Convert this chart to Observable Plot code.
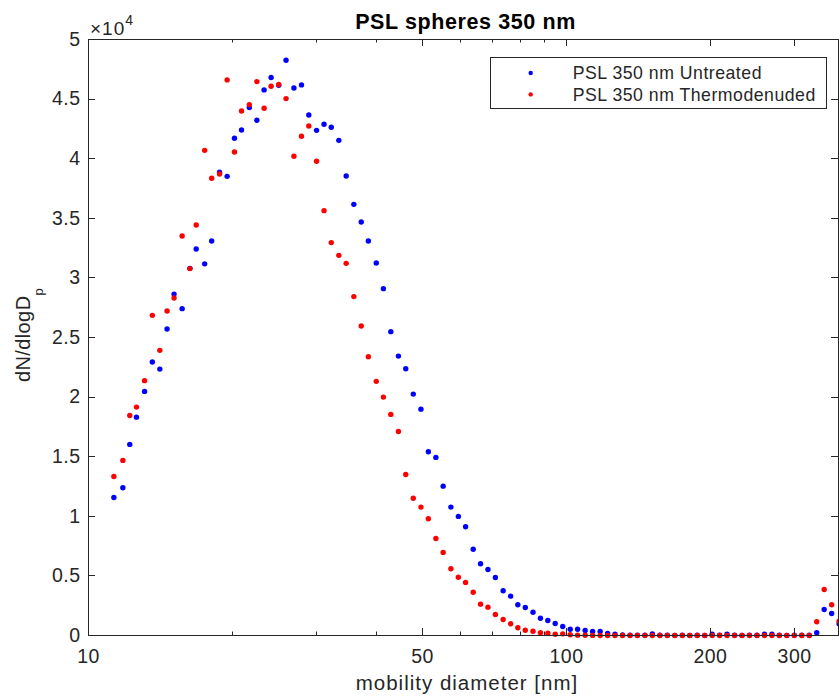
<!DOCTYPE html>
<html>
<head>
<meta charset="utf-8">
<script src="https://cdn.jsdelivr.net/npm/d3@7"></script>
<script src="https://cdn.jsdelivr.net/npm/@observablehq/plot@0.6"></script>
<style>
  html, body { margin: 0; padding: 0; background: #ffffff; }
  #chart { width: 839px; height: 696px; }
</style>
</head>
<body>
<div id="chart"></div>
<script>
// ---- data ----
const diameters = [11.3, 11.8, 12.2, 12.6, 13.1, 13.6, 14.1, 14.6, 15.1, 15.7,
  16.3, 16.8, 17.5, 18.1, 18.8, 19.5, 20.2, 20.9, 21.7, 22.5,
  23.3, 24.1, 25.0, 25.9, 26.9, 27.9, 28.9, 30.0, 31.1, 32.2,
  33.4, 34.6, 35.9, 37.2, 38.5, 40.0, 41.4, 42.9, 44.5, 46.1,
  47.8, 49.6, 51.4, 53.3, 55.2, 57.3, 59.4, 61.5, 63.8, 66.1,
  68.5, 71.0, 73.7, 76.4, 79.1, 82.0, 85.1, 88.2, 91.4, 94.7,
  98.2, 101.8, 105.5, 109.4, 113.4, 117.6, 121.9, 126.3, 131.0, 135.8,
  140.7, 145.9, 151.2, 156.8, 162.5, 168.5, 174.7, 181.1, 187.7, 194.6,
  201.7, 209.1, 216.7, 224.7, 232.9, 241.4, 250.3, 259.5, 269.0, 278.8,
  289.0, 299.6, 310.6, 322.0, 333.8, 346.0, 358.7, 371.8];

const untreated = [11580, 12400, 16030, 18320, 20480, 22940, 22350, 25710, 28640, 27420,
  30800, 32420, 31180, 33090, 38860, 38520, 41710, 42410, 44290, 43220,
  45770, 46810, 46160, 48260, 45930, 46190, 43670, 42380, 42890, 42640,
  41540, 38550, 36170, 34690, 33090, 31250, 29100, 25490, 23440, 22380,
  20250, 18990, 15420, 14940, 12530, 10770, 9990, 9120, 7240, 6020,
  5540, 4870, 3750, 3300, 2580, 2350, 1950, 1450, 1260, 1010,
  760, 530, 530, 420, 340, 340, 170, 100, 50, 30,
  20, 30, 120, 20, 20, 10, 20, 10, 20, 10,
  110, 20, 110, 20, 10, 20, 30, 110, 110, 20,
  10, 20, 30, 20, 230, 2180, 1850, 980];

const thermodenuded = [13340, 14690, 18460, 19160, 21380, 26860, 23920, 27220, 28310, 33510,
  30780, 34440, 40700, 38360, 38720, 46610, 40560, 44000, 44540, 46470,
  44230, 46080, 46220, 45040, 40200, 41880, 42740, 39780, 35640, 32960,
  31890, 31220, 28430, 25960, 23390, 21320, 20000, 18550, 17120, 13510,
  11520, 10770, 9790, 8140, 6970, 5600, 4890, 4450, 3630, 2630,
  2380, 1760, 1340, 980, 650, 440, 360, 230, 190, 110,
  140, 60, 30, 20, 10, 0, 0, 0, 0, 0,
  0, 0, 0, 0, 0, 0, 0, 0, 0, 0,
  0, 0, 0, 0, 0, 0, 0, 0, 0, 0,
  0, 0, 0, 0, 1150, 3860, 2580, 1200];

const seriesNames = ["PSL 350 nm Untreated", "PSL 350 nm Thermodenuded"];
const seriesColors = ["#0000ff", "#ff0000"];
const xTicks = [10, 50, 100, 200, 300];
const xMinorTicks = [20, 30, 40, 60, 70, 80, 90];
const yTicks = [0, 5000, 10000, 15000, 20000, 25000, 30000, 35000, 40000, 45000, 50000];
const titleText = "PSL spheres 350 nm";
const xLabelText = "mobility diameter [nm]";
const yLabelMain = "dN/dlogD";
const yLabelSub = "p";

(function () {
  // ---- build table ----
  const rows = [];
  [untreated, thermodenuded].forEach((vals, k) => {
    diameters.forEach((d, i) => rows.push({series: seriesNames[k], d, v: vals[i]}));
  });

  const ink = "#262626";
  const font = "'Liberation Sans', Arial, Helvetica, sans-serif";
  const xMax = 370.7;

  const chart = Plot.plot({
    width: 839,
    height: 696,
    marginLeft: 88,
    marginRight: 1,
    marginTop: 39,
    marginBottom: 61,
    style: {fontFamily: font, fontSize: "19.5px", color: ink, background: "#ffffff", letterSpacing: "0.5px", overflow: "visible"},
    x: {type: "log", domain: [10, xMax], ticks: xTicks, tickSize: 0, tickPadding: 14, tickFormat: d => String(d), label: null},
    y: {domain: [0, 50000], ticks: yTicks, tickSize: 0, tickPadding: 8, tickFormat: d => (d === 0 ? "0" : String(d / 1e4)), label: null},
    color: {domain: seriesNames, range: seriesColors},
    marks: [
      Plot.dot(rows, {x: "d", y: "v", fill: "series", r: 2.7}),
      Plot.frame({stroke: ink, strokeWidth: 1})
    ]
  });

  document.getElementById("chart").appendChild(chart);

  // ---- inward tick marks, positioned through the plot's own scales ----
  const svg = d3.select(chart);
  const sx = chart.scale("x");
  const sy = chart.scale("y");
  const xLeft = sx.apply(10), xRight = sx.apply(xMax);
  const yBottom = sy.apply(0), yTop = sy.apply(50000);
  const tg = svg.append("g").attr("stroke", ink).attr("stroke-width", 1);
  function vtick(v, len) {
    const px = Math.round(sx.apply(v)) + 0.5;
    tg.append("line").attr("x1", px).attr("x2", px).attr("y1", yBottom).attr("y2", yBottom - len);
    tg.append("line").attr("x1", px).attr("x2", px).attr("y1", yTop).attr("y2", yTop + len);
  }
  xTicks.forEach(v => vtick(v, 7));
  xMinorTicks.forEach(v => vtick(v, 3.5));
  yTicks.forEach(v => {
    const py = Math.round(sy.apply(v)) + 0.5;
    tg.append("line").attr("x1", xLeft).attr("x2", xLeft + 7).attr("y1", py).attr("y2", py);
    tg.append("line").attr("x1", xRight).attr("x2", xRight - 7).attr("y1", py).attr("y2", py);
  });

  // ---- annotations ----
  svg.append("text")
    .attr("x", 465.5).attr("y", 29.3)
    .attr("text-anchor", "middle")
    .attr("font-family", font).attr("font-weight", "bold")
    .attr("font-size", 21.5).attr("letter-spacing", "0.6px")
    .attr("fill", "#000000")
    .text(titleText);

  svg.append("text")
    .attr("x", 467).attr("y", 690)
    .attr("text-anchor", "middle")
    .attr("font-family", font).attr("font-size", 20.5)
    .attr("letter-spacing", "1px")
    .attr("fill", ink)
    .text(xLabelText);

  const yl = svg.append("text")
    .attr("transform", "translate(29.7,335) rotate(-90)")
    .attr("text-anchor", "middle")
    .attr("font-family", font).attr("font-size", 20)
    .attr("letter-spacing", "0.4px")
    .attr("fill", ink);
  yl.append("tspan").text(yLabelMain);
  yl.append("tspan").attr("dy", 13).attr("font-size", 13).text(yLabelSub);

  const ex = svg.append("text")
    .attr("x", 90).attr("y", 34.5)
    .attr("text-anchor", "start")
    .attr("font-family", font).attr("font-size", 19)
    .attr("letter-spacing", "1px")
    .attr("fill", ink);
  ex.append("tspan").text("\u00d710");
  ex.append("tspan").attr("dy", -9.5).attr("font-size", 14).text("4");

  // legend
  const lg = svg.append("g");
  lg.append("rect")
    .attr("x", 490.5).attr("y", 57.5).attr("width", 336).attr("height", 51)
    .attr("fill", "#ffffff").attr("stroke", ink).attr("stroke-width", 1);
  seriesNames.forEach((name, k) => {
    const cy = 73 + k * 21.4;
    lg.append("circle").attr("cx", 530.7).attr("cy", cy).attr("r", 2.2).attr("fill", seriesColors[k]);
    lg.append("text")
      .attr("x", 572.7).attr("y", cy + 6.3)
      .attr("text-anchor", "start")
      .attr("font-family", font).attr("font-size", 17.7)
      .attr("letter-spacing", "0.5px")
      .attr("fill", ink)
      .text(name);
  });
})();
</script>
</body>
</html>
